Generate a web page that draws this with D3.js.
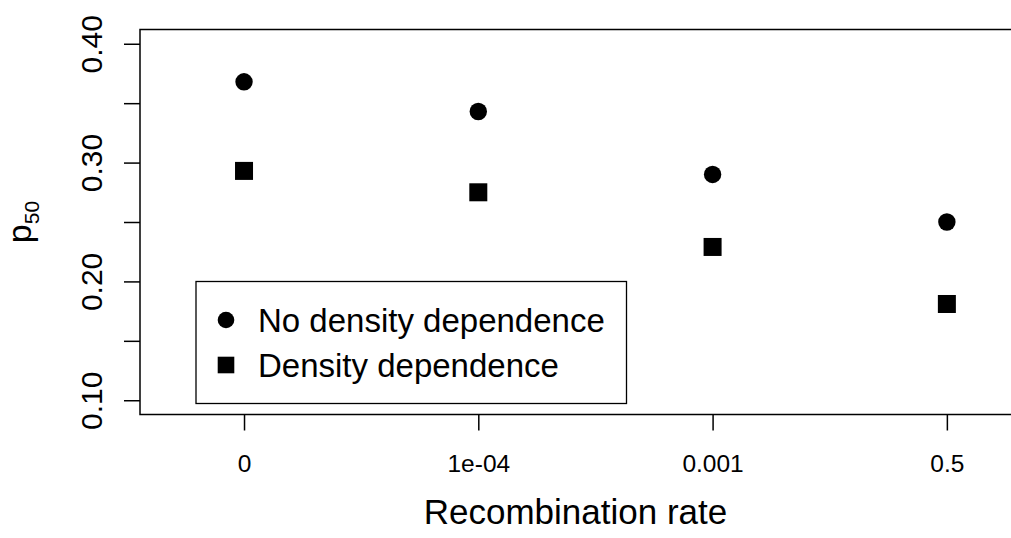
<!DOCTYPE html>
<html>
<head>
<meta charset="utf-8">
<style>
  body { margin: 0; background: white; }
  svg { display: block; font-family: "Liberation Sans", Arial, Helvetica, sans-serif; }
</style>
</head>
<body>
<div id="chart"></div>
<script src="https://d3js.org/d3.v7.min.js"></script>
<script>
// recombination rate categories (x axis)
const rates = ["0", "1e-04", "0.001", "0.5"];
// p50 values
const noDensityDep = [0.368, 0.343, 0.290, 0.250];
const densityDep = [0.293, 0.275, 0.229, 0.181];
const yTicks = [0.10, 0.15, 0.20, 0.25, 0.30, 0.35, 0.40];
const yLabelled = [0.10, 0.20, 0.30, 0.40];
const legendLabels = ["No density dependence", "Density dependence"];

const width = 1011, height = 538;
const plotLeft = 140, plotRight = 1012, plotTop = 29.5, plotBottom = 414.5;

const svg = d3.select("#chart").append("svg")
  .attr("width", width)
  .attr("height", height);

// index scale so the four categories sit where R put them
const x = d3.scaleLinear()
  .domain([-0.444, 3.278])
  .range([plotLeft, plotRight]);

const y = d3.scaleLinear()
  .domain([0.088, 0.412])
  .range([plotBottom, plotTop]);

// plot box
svg.append("rect")
  .attr("x", plotLeft)
  .attr("y", plotTop)
  .attr("width", plotRight - plotLeft)
  .attr("height", plotBottom - plotTop)
  .attr("fill", "none")
  .attr("stroke", "black")
  .attr("stroke-width", 1.5);

// y axis
const yAxis = svg.append("g")
  .attr("transform", `translate(${plotLeft},0)`)
  .call(d3.axisLeft(y)
    .tickValues(yTicks)
    .tickSize(16)
    .tickFormat(d => yLabelled.some(v => Math.abs(v - d) < 1e-9) ? d3.format(".2f")(d) : ""));
yAxis.select(".domain").remove();
yAxis.selectAll(".tick line").attr("stroke", "black").attr("stroke-width", 1.5);
yAxis.selectAll(".tick text")
  .attr("x", null).attr("dy", null)
  .attr("transform", "translate(-38,0) rotate(-90)")
  .attr("text-anchor", "middle")
  .attr("fill", "black")
  .style("font-size", "30px")
  .style("font-family", "'Liberation Sans', Arial, sans-serif");

// x axis
const xAxis = svg.append("g")
  .attr("transform", `translate(0,${plotBottom})`)
  .call(d3.axisBottom(x)
    .tickValues(d3.range(rates.length))
    .tickSize(16)
    .tickFormat(i => rates[i]));
xAxis.select(".domain").remove();
xAxis.selectAll(".tick line").attr("stroke", "black").attr("stroke-width", 1.5);
xAxis.selectAll(".tick text")
  .attr("y", 57).attr("dy", null)
  .attr("fill", "black")
  .style("font-size", "24.5px")
  .style("font-family", "'Liberation Sans', Arial, sans-serif");

// points
const r = 8.7, sq = 18;
svg.append("g").selectAll("circle")
  .data(noDensityDep)
  .join("circle")
  .attr("cx", (d, i) => x(i))
  .attr("cy", d => y(d))
  .attr("r", r)
  .attr("fill", "black");

svg.append("g").selectAll("rect")
  .data(densityDep)
  .join("rect")
  .attr("x", (d, i) => x(i) - sq / 2)
  .attr("y", d => y(d) - sq / 2)
  .attr("width", sq)
  .attr("height", sq)
  .attr("fill", "black");

// axis titles
svg.append("text")
  .attr("x", (plotLeft + width) / 2)
  .attr("y", 524)
  .attr("text-anchor", "middle")
  .style("font-size", "35px")
  .text("Recombination rate");

const ylab = svg.append("text")
  .attr("transform", `translate(31,${(plotTop + plotBottom) / 2}) rotate(-90)`)
  .attr("text-anchor", "middle")
  .style("font-size", "34px");
ylab.append("tspan").text("p");
ylab.append("tspan").attr("dy", 8).style("font-size", "21px").text("50");

// legend
const legend = svg.append("g");
legend.append("rect")
  .attr("x", 196)
  .attr("y", 281.5)
  .attr("width", 430.5)
  .attr("height", 122)
  .attr("fill", "white")
  .attr("stroke", "black")
  .attr("stroke-width", 1.3);

const rows = [320, 365];
legend.append("circle")
  .attr("cx", 226).attr("cy", rows[0]).attr("r", 8.3).attr("fill", "black");
legend.append("rect")
  .attr("x", 226 - 8.3).attr("y", rows[1] - 8.3)
  .attr("width", 16.6).attr("height", 16.6).attr("fill", "black");
legend.selectAll("text.lab")
  .data(legendLabels)
  .join("text")
  .attr("class", "lab")
  .attr("x", 258)
  .attr("y", (d, i) => rows[i] + 11.5)
  .style("font-size", "33px")
  .text(d => d);
</script>
</body>
</html>
